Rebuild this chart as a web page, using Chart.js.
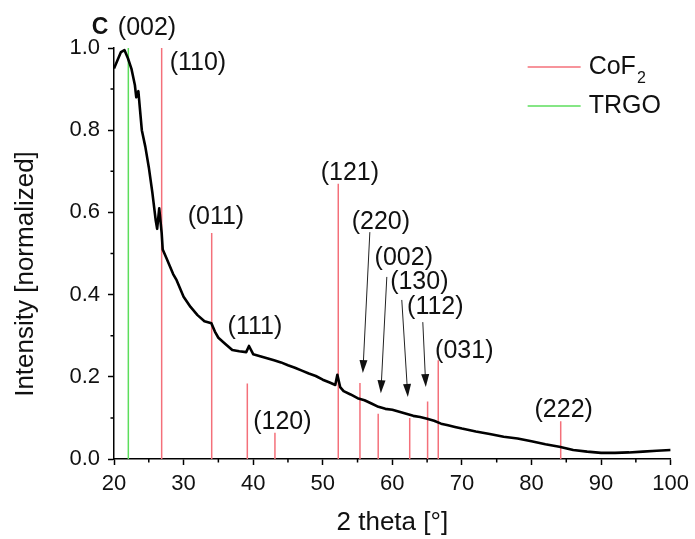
<!DOCTYPE html>
<html lang="en">
<head>
  <meta charset="utf-8"/>
  <title>XRD CoF2 / TRGO</title>
  <script src="https://cdn.jsdelivr.net/npm/chart.js@4.4.1/dist/chart.umd.min.js"></script>
  <style>
    html, body { margin: 0; padding: 0; background: #fff; }
    #xrd { display: block; }
  </style>
</head>
<body>
<canvas id="xrd" width="695" height="539"></canvas>
<script>
var twoTheta = [20, 20.5, 21, 21.5, 22, 22.5, 23, 23.2, 23.5, 24, 24.5, 25, 25.5, 26, 26.2, 26.5, 26.85,
  27, 27.5, 28, 28.5, 29, 29.5, 30, 31, 32, 33, 34, 34.5, 35, 36, 37, 38, 39, 39.4, 40, 41, 42, 43,
  44, 45, 46, 47, 48, 49, 50, 51, 51.8, 52.1, 52.5, 53, 54, 55, 56, 57, 58, 59, 60, 61, 62, 63, 64,
  65, 66, 67, 68, 69, 70, 72, 74, 76, 78, 80, 82, 84, 86, 88, 90, 92, 94, 96, 98, 100];
var intensity = [0.95, 0.97, 0.99, 0.995, 0.975, 0.95, 0.91, 0.88, 0.895, 0.8, 0.76, 0.71, 0.65, 0.58, 0.56, 0.61, 0.55,
  0.51, 0.49, 0.47, 0.45, 0.435, 0.415, 0.395, 0.37, 0.35, 0.335, 0.33, 0.31, 0.295, 0.28, 0.265, 0.262, 0.26, 0.275, 0.255, 0.25, 0.245, 0.24,
  0.235, 0.228, 0.222, 0.215, 0.208, 0.202, 0.193, 0.186, 0.18, 0.205, 0.175, 0.165, 0.157, 0.148, 0.143, 0.135, 0.127, 0.122, 0.12, 0.115, 0.11, 0.105, 0.102,
  0.098, 0.093, 0.086, 0.082, 0.078, 0.074, 0.067, 0.061, 0.054, 0.05, 0.043, 0.036, 0.03, 0.022, 0.018, 0.015, 0.015, 0.016, 0.018, 0.02, 0.022];

// reference peaks
var cofPos = [26.85, 34.04, 39.16, 43.13, 52.23, 55.35, 57.97, 62.5, 65.07, 66.6, 84.2];
var cofInt = [1.0, 0.55, 0.184, 0.064, 0.67, 0.185, 0.11, 0.10, 0.14, 0.24, 0.092];
var trgoPos = [22.06];
var trgoInt = [1.0];

// peak labels, centre in data units
var peakNames = ['(002)', '(110)', '(011)', '(111)', '(120)', '(121)', '(220)', '(002)', '(130)', '(112)', '(031)', '(222)'];
var labelX = [24.74, 32.06, 34.65, 40.25, 44.2, 53.9, 58.35, 61.65, 63.88, 66.18, 70.34, 84.63];
var labelY = [1.049, 0.964, 0.589, 0.321, 0.09, 0.696, 0.577, 0.489, 0.431, 0.37, 0.263, 0.119];

// arrows from labels down to the sticks
var arrowX0 = [56.77, 59.21, 61.36, 64.38];
var arrowY0 = [0.552, 0.443, 0.387, 0.333];
var arrowX1 = [55.76, 58.35, 62.23, 64.81];
var arrowY1 = [0.209, 0.16, 0.151, 0.175];

var FONT = '"Liberation Sans", Arial, Helvetica, sans-serif';
var RED = 'rgb(244, 112, 122)';
var GREEN = 'rgb(92, 222, 92)';

function sticks(pos, hgt) {
  var pts = [];
  pos.forEach(function (p, i) {
    pts.push({x: p, y: 0}, {x: p, y: hgt[i]}, {x: p, y: null});
  });
  return pts;
}

var curve = twoTheta.map(function (t, i) { return {x: t, y: intensity[i]}; });

var decor = {
  id: 'decor',
  afterDraw: function (chart) {
    var ctx = chart.ctx, xs = chart.scales.x, ys = chart.scales.y, a = chart.chartArea;
    ctx.save();

    // minor ticks
    ctx.strokeStyle = '#000';
    ctx.lineWidth = 1.5;
    ctx.beginPath();
    for (var v = 25; v < 100; v += 10) {
      var px = xs.getPixelForValue(v);
      ctx.moveTo(px, a.bottom); ctx.lineTo(px, a.bottom + 3.5);
    }
    for (var w = 0.1; w < 1; w += 0.2) {
      var py = ys.getPixelForValue(w);
      ctx.moveTo(a.left, py); ctx.lineTo(a.left - 3.5, py);
    }
    ctx.stroke();

    // peak labels
    ctx.fillStyle = '#111';
    ctx.textAlign = 'center';
    ctx.textBaseline = 'middle';
    ctx.font = '25px ' + FONT;
    peakNames.forEach(function (n, i) {
      ctx.fillText(n, xs.getPixelForValue(labelX[i]), ys.getPixelForValue(labelY[i]));
    });
    ctx.font = 'bold 23px ' + FONT;
    ctx.fillText('C', 100, ys.getPixelForValue(1.049));

    // arrows
    ctx.strokeStyle = '#222';
    ctx.lineWidth = 1;
    arrowX0.forEach(function (x0, i) {
      var p0x = xs.getPixelForValue(x0), p0y = ys.getPixelForValue(arrowY0[i]);
      var p1x = xs.getPixelForValue(arrowX1[i]), p1y = ys.getPixelForValue(arrowY1[i]);
      var ang = Math.atan2(p1y - p0y, p1x - p0x);
      ctx.beginPath();
      ctx.moveTo(p0x, p0y);
      ctx.lineTo(p1x - 10 * Math.cos(ang), p1y - 10 * Math.sin(ang));
      ctx.stroke();
      ctx.beginPath();
      ctx.moveTo(p1x, p1y);
      ctx.lineTo(p1x - 13 * Math.cos(ang) + 4 * Math.sin(ang), p1y - 13 * Math.sin(ang) - 4 * Math.cos(ang));
      ctx.lineTo(p1x - 13 * Math.cos(ang) - 4 * Math.sin(ang), p1y - 13 * Math.sin(ang) + 4 * Math.cos(ang));
      ctx.closePath();
      ctx.fillStyle = '#111';
      ctx.fill();
    });

    // legend
    var lx0 = a.right - 143, lx1 = a.right - 90, tx = a.right - 82;
    var rows = [{c: RED, t: 'CoF', sub: '2'}, {c: GREEN, t: 'TRGO'}];
    rows.forEach(function (r, i) {
      var ry = a.top + 19 + i * 39;
      ctx.strokeStyle = r.c;
      ctx.lineWidth = 1.5;
      ctx.beginPath(); ctx.moveTo(lx0, ry); ctx.lineTo(lx1, ry); ctx.stroke();
      ctx.fillStyle = '#111';
      ctx.textAlign = 'left';
      ctx.font = '25px ' + FONT;
      ctx.fillText(r.t, tx, ry);
      if (r.sub) {
        var wt = ctx.measureText(r.t).width;
        ctx.font = '16px ' + FONT;
        ctx.fillText(r.sub, tx + wt + 1, ry + 12);
      }
    });

    // y axis title
    ctx.translate(26, 274);
    ctx.rotate(-Math.PI / 2);
    ctx.textAlign = 'center';
    ctx.font = '26px ' + FONT;
    ctx.fillStyle = '#111';
    ctx.fillText('Intensity [normalized]', 0, 0);
    ctx.restore();
  }
};

new Chart(document.getElementById('xrd'), {
  type: 'scatter',
  data: {
    datasets: [
      {label: 'data', data: curve, showLine: true, borderColor: '#000', borderWidth: 2.6,
        borderJoinStyle: 'round', pointRadius: 0, tension: 0},
      {label: 'CoF2', data: sticks(cofPos, cofInt), showLine: true, spanGaps: false, borderColor: RED, borderWidth: 1.5, pointRadius: 0},
      {label: 'TRGO', data: sticks(trgoPos, trgoInt), showLine: true, spanGaps: false, borderColor: GREEN, borderWidth: 1.5, pointRadius: 0}
    ]
  },
  options: {
    responsive: false,
    animation: false,
    devicePixelRatio: 1,
    layout: {padding: {left: 0, right: 24, top: 48, bottom: 0}},
    plugins: {legend: {display: false}, tooltip: {enabled: false}},
    scales: {
      x: {
        type: 'linear', min: 20, max: 100,
        border: {color: '#000', width: 1.5},
        grid: {drawOnChartArea: false, drawTicks: true, tickLength: 6, tickColor: '#000', tickWidth: 1.5},
        ticks: {stepSize: 10, padding: 6, color: '#111', maxRotation: 0, font: {family: FONT, size: 22}},
        title: {display: true, text: '2 theta [°]', color: '#111', font: {family: FONT, size: 26}, padding: {top: 0, bottom: 1}},
        afterFit: function (s) { s.height = 80; }
      },
      y: {
        min: 0, max: 1,
        border: {color: '#000', width: 1.5},
        grid: {drawOnChartArea: false, drawTicks: true, tickLength: 6, tickColor: '#000', tickWidth: 1.5},
        ticks: {stepSize: 0.2, padding: 8, color: '#111', font: {family: FONT, size: 22},
          callback: function (v) { return v.toFixed(1); }},
        afterFit: function (s) { s.width = 114; }
      }
    }
  },
  plugins: [decor]
});
</script>
</body>
</html>
